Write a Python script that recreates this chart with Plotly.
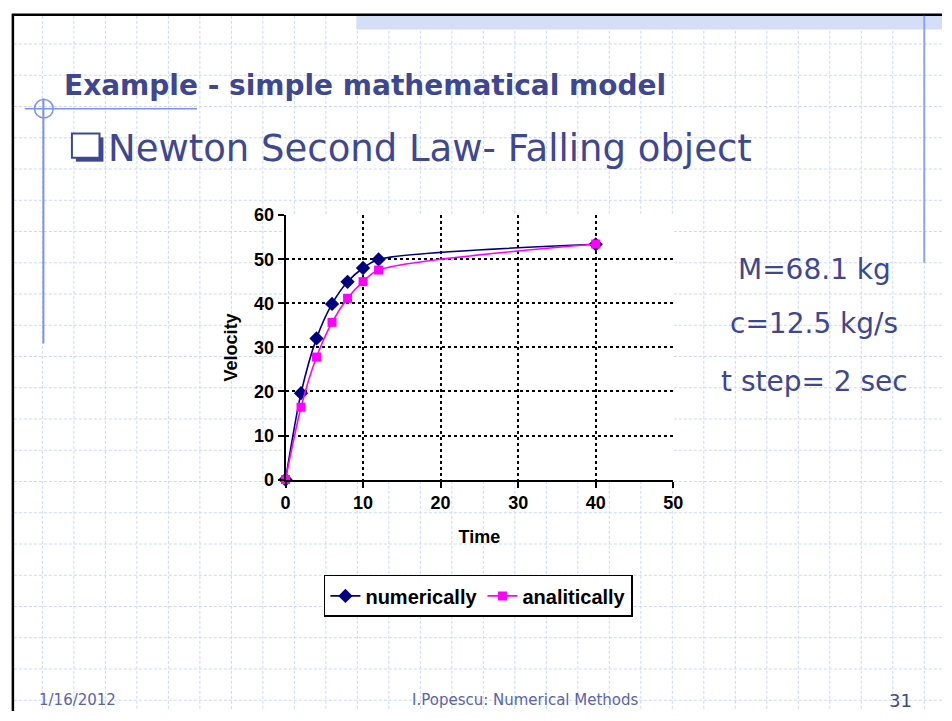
import plotly.graph_objects as go

# ---- data ----
time_s = [0, 2, 4, 6, 8, 10, 12, 40]
v_numerical = [0, 19.62, 32.04, 39.86, 44.87, 48.01, 49.96, 53.39]
v_analytical = [0, 16.42, 27.80, 35.68, 41.14, 44.92, 47.54, 53.44]
x_ticks = [0, 10, 20, 30, 40, 50]
y_ticks = [0, 10, 20, 30, 40, 50, 60]
series_names = ["numerically", "analitically"]
params = ["M=68.1 kg", "c=12.5 kg/s", "t step= 2 sec"]
slide_title = "Example - simple mathematical model"
bullet_text = "Newton Second Law- Falling object"
footer_left = "1/16/2012"
footer_mid = "I.Popescu: Numerical Methods"
footer_page = "31"

W, H = 952, 721
def px(x):
    return x / W
def py(y):
    return 1 - y / H

SLIDE_BLUE = "#3d4792"
DECO_BLUE = "#7b93ee"
GRID_BLUE = "#cdd8f6"

fig = go.Figure()
fig.add_trace(go.Scatter(
    x=time_s, y=v_numerical, name=series_names[0], mode="lines+markers",
    line=dict(color="#000080", width=1.6, shape="spline", smoothing=0.8),
    marker=dict(symbol="diamond", size=11, color="#000080"),
    cliponaxis=False))
fig.add_trace(go.Scatter(
    x=time_s, y=v_analytical, name=series_names[1], mode="lines+markers",
    line=dict(color="#ff00ff", width=1.6, shape="spline", smoothing=0.8),
    marker=dict(symbol="square", size=9, color="#ff00ff"),
    cliponaxis=False))

shapes = []
# slide background grid
for k in range(29):
    x = 38 + 32 * k
    shapes.append(dict(type="line", xref="paper", yref="paper", layer="below",
                       x0=px(x), x1=px(x), y0=py(6), y1=py(721),
                       line=dict(color=GRID_BLUE, width=1, dash="3px,2px")))
for k in range(22):
    y = 35 + 32.14 * k
    shapes.append(dict(type="line", xref="paper", yref="paper", layer="below",
                       x0=px(9), x1=px(952), y0=py(y), y1=py(y),
                       line=dict(color=GRID_BLUE, width=1, dash="3px,2px")))
# white plot area
shapes.append(dict(type="rect", xref="paper", yref="paper", layer="below",
                   x0=px(285), x1=px(679), y0=py(483), y1=py(211),
                   fillcolor="white", line=dict(width=0)))
# hatched top band
shapes.append(dict(type="rect", xref="paper", yref="paper", layer="below",
                   x0=px(357), x1=px(952), y0=py(20), y1=py(6),
                   fillcolor="#d5def7", line=dict(width=0)))
# black frame
shapes.append(dict(type="line", xref="paper", yref="paper",
                   x0=px(7), x1=px(952), y0=py(5), y1=py(5),
                   line=dict(color="black", width=2.5)))
shapes.append(dict(type="line", xref="paper", yref="paper",
                   x0=px(8), x1=px(8), y0=py(4), y1=py(721),
                   line=dict(color="black", width=2.5)))
# right blue line
shapes.append(dict(type="line", xref="paper", yref="paper",
                   x0=px(934), x1=px(934), y0=py(6), y1=py(260),
                   line=dict(color="#8ea3ed", width=2)))
# left blue line + crosshair
shapes.append(dict(type="line", xref="paper", yref="paper",
                   x0=px(39), x1=px(39), y0=py(91), y1=py(343),
                   line=dict(color=DECO_BLUE, width=2)))
shapes.append(dict(type="line", xref="paper", yref="paper",
                   x0=px(20), x1=px(195), y0=py(101.5), y1=py(101.5),
                   line=dict(color=DECO_BLUE, width=1.5)))
shapes.append(dict(type="circle", xref="paper", yref="paper",
                   x0=px(30), x1=px(49), y0=py(111), y1=py(92),
                   line=dict(color=DECO_BLUE, width=1.5)))
# bullet box (shadowed square)
shapes.append(dict(type="rect", xref="paper", yref="paper",
                   x0=px(72), x1=px(100), y0=py(156), y1=py(131),
                   fillcolor=SLIDE_BLUE, line=dict(width=0)))
shapes.append(dict(type="rect", xref="paper", yref="paper",
                   x0=px(68), x1=px(96), y0=py(152), y1=py(127),
                   fillcolor="white", line=dict(color=SLIDE_BLUE, width=2)))

annotations = [
    dict(text=slide_title, x=px(58), y=py(78), xanchor="left", yanchor="middle",
         font=dict(family="DejaVu Sans", size=28, color=SLIDE_BLUE, weight="bold")),
    dict(text=bullet_text, x=px(103), y=py(142.5), xanchor="left", yanchor="middle",
         font=dict(family="DejaVu Sans", size=37, color=SLIDE_BLUE)),
    dict(text=footer_left, x=px(33), y=py(710), xanchor="left", yanchor="middle",
         font=dict(family="DejaVu Sans", size=15, color="#5a64aa")),
    dict(text=footer_mid, x=px(411), y=py(710), xanchor="left", yanchor="middle",
         font=dict(family="DejaVu Sans", size=15, color="#5a64aa")),
    dict(text=footer_page, x=px(924), y=py(710), xanchor="right", yanchor="middle",
         font=dict(family="DejaVu Sans", size=18, color=SLIDE_BLUE)),
]
for txt, yc in zip(params, [267, 322, 382]):
    annotations.append(dict(text=txt, x=px(822), y=py(yc), xanchor="center", yanchor="middle",
                            font=dict(family="DejaVu Sans", size=28, color=SLIDE_BLUE)))
for a in annotations:
    a.update(xref="paper", yref="paper", showarrow=False)

tickfont = dict(family="Liberation Sans", size=18, color="black", weight="bold")
titlefont = dict(family="Liberation Sans", size=18, color="black", weight="bold")
axis_common = dict(showgrid=True, gridcolor="black", gridwidth=1.6, griddash="3px,3px",
                   showline=True, linecolor="black", linewidth=2, zeroline=False,
                   ticks="outside", ticklen=6, tickwidth=2, tickcolor="black",
                   tickfont=tickfont)

fig.update_layout(
    width=W, height=H, margin=dict(l=0, r=0, t=0, b=0),
    paper_bgcolor="white", plot_bgcolor="rgba(0,0,0,0)",
    xaxis=dict(domain=[px(285), px(679)], range=[0, 50], tickvals=x_ticks,
               title=dict(text="Time", font=titlefont, standoff=18), **axis_common),
    yaxis=dict(domain=[py(483), py(211)], range=[0, 60], tickvals=y_ticks,
               title=dict(text="Velocity", font=titlefont, standoff=12), **axis_common),
    legend=dict(orientation="h", x=px(481), xanchor="center", y=py(581), yanchor="top",
                bgcolor="white", bordercolor="black", borderwidth=1.5,
                font=dict(family="Liberation Sans", size=20, color="black", weight="bold"),
                itemclick=False),
    shapes=shapes, annotations=annotations, showlegend=True,
)

fig.write_html(
    "out.html",
    config={"displayModeBar": False},
    post_script="document.body.style.margin='0';document.body.style.overflow='hidden';"
                "document.documentElement.style.overflow='hidden';",
)
